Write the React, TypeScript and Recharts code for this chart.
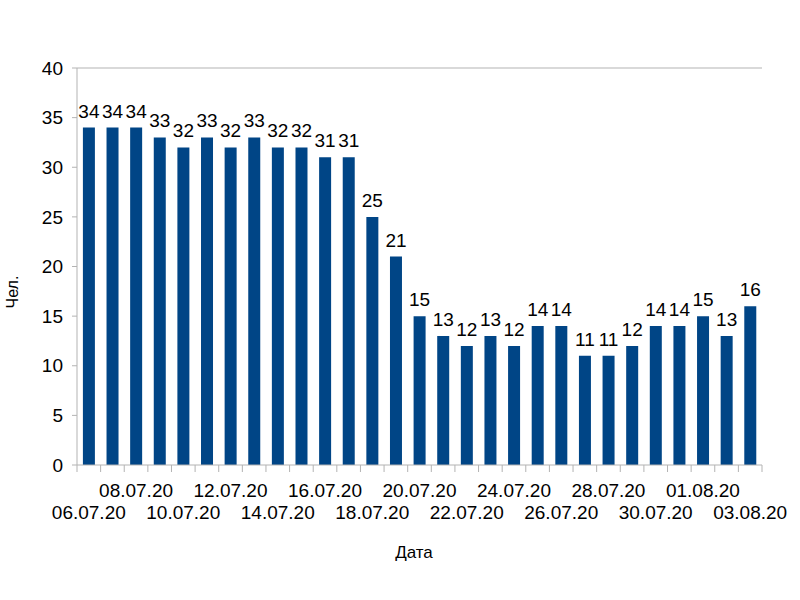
import { BarChart, Bar, XAxis, YAxis, LabelList, ReferenceLine } from "recharts";

const dates = [
  "06.07.20", "07.07.20", "08.07.20", "09.07.20", "10.07.20", "11.07.20",
  "12.07.20", "13.07.20", "14.07.20", "15.07.20", "16.07.20", "17.07.20",
  "18.07.20", "19.07.20", "20.07.20", "21.07.20", "22.07.20", "23.07.20",
  "24.07.20", "25.07.20", "26.07.20", "27.07.20", "28.07.20", "29.07.20",
  "30.07.20", "31.07.20", "01.08.20", "02.08.20", "03.08.20",
];
const counts = [
  34, 34, 34, 33, 32, 33, 32, 33, 32, 32, 31, 31, 25, 21, 15,
  13, 12, 13, 12, 14, 14, 11, 11, 12, 14, 14, 15, 13, 16,
];
const yTicks = [0, 5, 10, 15, 20, 25, 30, 35, 40];

const data = dates.map((d, i) => ({ date: d, value: counts[i] }));

const FONT = "'Liberation Sans', Arial, sans-serif";
const AXIS = "#b3b3b3";
const PLOT_W = 685;
const BAND = PLOT_W / dates.length;

function DateTick(props: any) {
  const { x, y, payload } = props;
  const i = payload.index;
  const left = x - BAND / 2;
  return (
    <g>
      <line x1={left} y1={y} x2={left} y2={y + 7} stroke={AXIS} />
      {i === dates.length - 1 && (
        <line x1={x + BAND / 2} y1={y} x2={x + BAND / 2} y2={y + 7} stroke={AXIS} />
      )}
      {i % 2 === 0 && (
        <text
          x={x}
          y={i % 4 === 0 ? y + 47 : y + 25}
          textAnchor="middle"
          dominantBaseline="central"
          fontSize={19}
          fontFamily={FONT}
          fill="#000"
        >
          {payload.value}
        </text>
      )}
    </g>
  );
}

export default function App() {
  return (
    <div style={{ position: "absolute", left: 0, top: 0, background: "#fff" }}>
      <BarChart
        width={800}
        height={600}
        data={data}
        margin={{ top: 68, right: 38, bottom: 75, left: 17 }}
        barCategoryGap="25%"
      >
        <XAxis
          dataKey="date"
          interval={0}
          height={60}
          axisLine={{ stroke: AXIS }}
          tickLine={false}
          tickSize={0}
          tickMargin={0}
          tick={<DateTick />}
        />
        <YAxis
          yAxisId="left"
          width={60}
          domain={[0, 40]}
          ticks={yTicks}
          axisLine={{ stroke: AXIS }}
          tickLine={{ stroke: AXIS }}
          tickSize={5}
          tickMargin={9}
          tick={{ fontSize: 19, fontFamily: FONT, fill: "#000" }}
        />
        <YAxis
          yAxisId="right"
          orientation="right"
          width={0}
          domain={[0, 40]}
          tick={false}
          tickLine={false}
          axisLine={{ stroke: AXIS }}
        />
        <ReferenceLine yAxisId="left" y={40} stroke={AXIS} />
        <Bar yAxisId="left" dataKey="value" fill="#004586" isAnimationActive={false}>
          <LabelList
            dataKey="value"
            position="top"
            offset={10}
            style={{ fontSize: 19, fontFamily: FONT, fill: "#000" }}
          />
        </Bar>
        <text x={414} y={552} textAnchor="middle" dominantBaseline="central" fontSize={17} fontFamily={FONT} fill="#000">
          Дата
        </text>
        <text
          x={12}
          y={292}
          textAnchor="middle"
          dominantBaseline="central"
          fontSize={16}
          fontFamily={FONT}
          fill="#000"
          transform="rotate(-90 12 292)"
        >
          Чел.
        </text>
      </BarChart>
    </div>
  );
}
